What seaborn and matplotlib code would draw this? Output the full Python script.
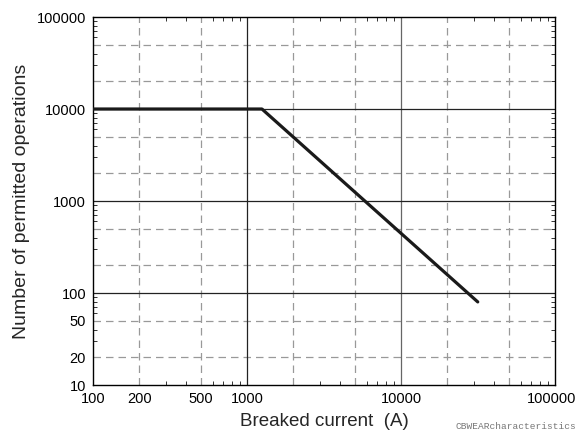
import numpy as np
import pandas as pd
import seaborn as sns
import matplotlib.pyplot as plt
import matplotlib.transforms as mtransforms
from matplotlib.ticker import FixedLocator, NullFormatter

# Date
curent = [100, 1250, 31500]          # A
operatii = [10000, 10000, 80]        # numar operatii permise

xticks = [100, 200, 500, 1000, 10000, 100000]
yticks = [10, 20, 50, 100, 1000, 10000, 100000]
grila_x_plin = [1000, 10000]
grila_y_plin = [100, 1000, 10000]
grila_x_punctat = [200, 500, 2000, 5000, 20000, 50000]
grila_y_punctat = [20, 50, 200, 500, 2000, 5000, 20000, 50000]

sns.set_style("ticks")
plt.rcParams["font.family"] = ["Liberation Sans", "DejaVu Sans"]

df = pd.DataFrame({"curent": curent, "operatii": operatii})

fig = plt.figure(figsize=(5.77, 4.34), dpi=100)
ax = fig.add_axes([0.1612, 0.1129, 0.8007, 0.8479])

ax.set_xscale("log")
ax.set_yscale("log")
ax.set_xlim(100, 100000)
ax.set_ylim(10, 100000)

# Grila
for v in grila_x_punctat:
    ax.axvline(v, color="#999999", lw=0.9, ls=(0, (6, 4)), zorder=1)
for v in grila_y_punctat:
    ax.axhline(v, color="#999999", lw=0.9, ls=(0, (6, 4)), zorder=1)
for v in grila_x_plin:
    ax.axvline(v, color="#222222" if v == 1000 else "#666666", lw=0.9, zorder=1)
for v in grila_y_plin:
    ax.axhline(v, color="#222222", lw=0.9, zorder=1)

sns.lineplot(data=df, x="curent", y="operatii", color="#1a1a1a", linewidth=2.3, ax=ax, zorder=3)

# Axe
ax.xaxis.set_major_locator(FixedLocator(xticks))
ax.set_xticklabels([str(t) for t in xticks])
ax.yaxis.set_major_locator(FixedLocator(yticks))
ax.set_yticklabels([str(t) for t in yticks])
minore = [m * 10 ** e for e in range(1, 6) for m in range(2, 10)]
ax.xaxis.set_minor_locator(FixedLocator(minore))
ax.yaxis.set_minor_locator(FixedLocator(minore))
ax.xaxis.set_minor_formatter(NullFormatter())
ax.yaxis.set_minor_formatter(NullFormatter())
ax.tick_params(which="major", length=0, labelsize=10.5, pad=5, colors="black")
ax.tick_params(which="minor", length=3, width=0.7, direction="in",
               top=True, right=True, bottom=True, left=True, color="#333333")
for s in ax.spines.values():
    s.set_color("black")
    s.set_linewidth(1.0)

# ultima eticheta putin spre stanga, ca in original
ultima = ax.get_xticklabels()[-1]
ultima.set_transform(ultima.get_transform() + mtransforms.ScaledTranslation(-3 / 100, 0, fig.dpi_scale_trans))

ax.set_xlabel("Breaked current  (A)", fontsize=13.5, labelpad=5)
ax.set_ylabel("Number of permitted operations", fontsize=14, labelpad=5)

fig.text(0.998, 0.008, "CBWEARcharacteristics", ha="right", va="bottom",
         fontsize=6.8, family=["Liberation Mono", "DejaVu Sans Mono"], color="#777777")

plt.savefig("out.png", dpi=100)
